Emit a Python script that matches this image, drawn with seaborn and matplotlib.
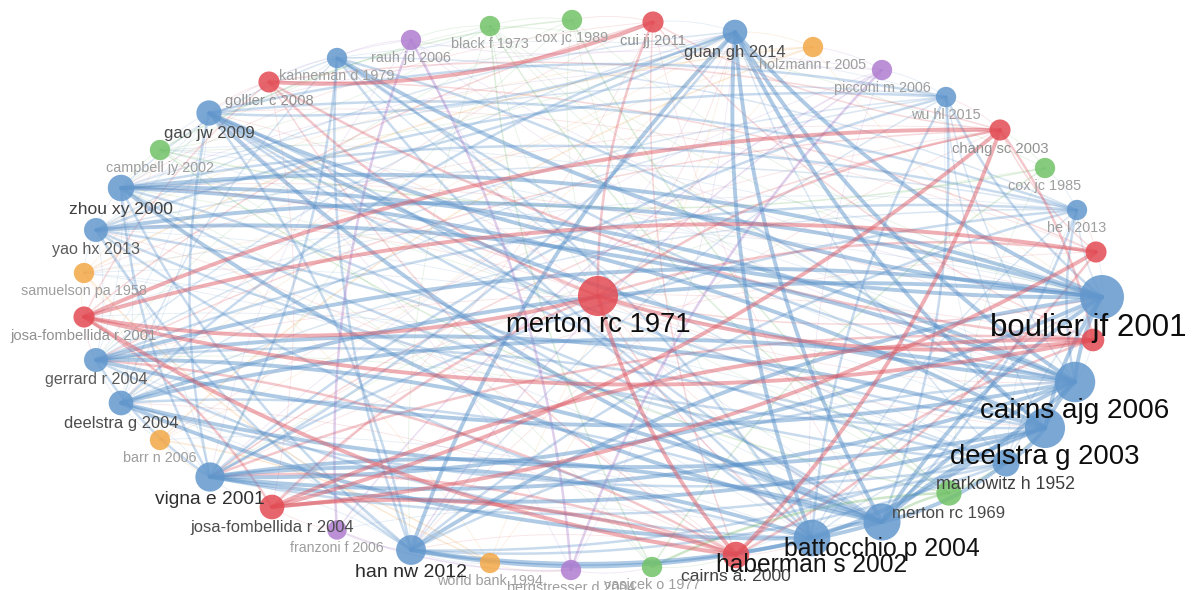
import numpy as np
import pandas as pd
import matplotlib
matplotlib.use("Agg")
import matplotlib.pyplot as plt
from matplotlib.collections import LineCollection
import seaborn as sns

# ---- co-citation map: documents (layout coordinates in map units) ----
keys = ["rauh", "black", "cox89", "cui", "guan", "holz", "picc", "wu", "chang", "cox85",
        "he", "redA", "boul", "redB", "cajg", "deel03", "mark", "mert69", "batt", "haber",
        "cairnsa", "vasi", "berg", "wb", "han", "franz", "josa04", "vigna", "barr", "deel04",
        "gerr", "josa01", "samu", "yao", "zhou", "camp", "gao", "goll", "kahn", "mert71"]
labels = ["rauh jd 2006", "black f 1973", "cox jc 1989", "cui jj 2011", "guan gh 2014",
          "holzmann r 2005", "picconi m 2006", "wu hl 2015", "chang sc 2003", "cox jc 1985",
          "he l 2013", "", "boulier jf 2001", "", "cairns ajg 2006", "deelstra g 2003",
          "markowitz h 1952", "merton rc 1969", "battocchio p 2004", "haberman s 2002",
          "cairns a. 2000", "vasicek o 1977", "bergstresser d 2004", "world bank 1994",
          "han nw 2012", "franzoni f 2006", "josa-fombellida r 2004", "vigna e 2001",
          "barr n 2006", "deelstra g 2004", "gerrard r 2004", "josa-fombellida r 2001",
          "samuelson pa 1958", "yao hx 2013", "zhou xy 2000", "campbell jy 2002",
          "gao jw 2009", "gollier c 2008", "kahneman d 1979", "merton rc 1971"]
clusters = [5, 2, 2, 1, 3, 4, 5, 3, 1, 2,
            3, 1, 3, 1, 3, 3, 3, 2, 3, 3,
            1, 2, 5, 4, 3, 5, 1, 3, 4, 3,
            3, 1, 4, 3, 3, 2, 3, 1, 3, 1]
map_x = [411, 490, 572, 653, 735, 813, 882, 946, 1000, 1045,
         1077, 1096, 1102, 1093, 1075, 1045, 1006, 949, 882, 812,
         736, 652, 571, 490, 411, 337, 272, 210, 160, 121,
         96, 84, 84, 96, 121, 160, 209, 269, 337, 598]
map_y = [40, 26, 20, 22, 32, 47, 70, 97, 130, 168,
         210, 252, 297, 340, 382, 428, 463, 493, 522, 538,
         555, 567, 570, 563, 550, 530, 507, 477, 440, 403,
         360, 317, 273, 230, 188, 150, 113, 82, 58, 296]
weights = [10, 10, 10, 11, 16, 10, 10, 10, 11, 10,
           10, 11, 60, 13, 50, 49, 20, 17, 41, 40,
           19, 10, 10, 10, 25, 9, 16, 24, 10, 16,
           15, 11, 10, 15, 19, 10, 17, 11, 10, 49]

# ---- links, grouped by co-citation strength ----
strong_links = [
    "boul zhou", "boul yao", "boul gerr", "gao boul", "boul deel04", "vigna boul", "boul han", "kahn boul",
    "cajg zhou", "gerr cajg", "cajg deel04", "vigna cajg", "gao cajg", "cajg yao",
    "deel03 zhou", "vigna deel03", "deel03 gerr", "deel04 deel03",
    "batt vigna", "zhou batt", "gao batt", "han batt", "batt gerr",
    "haber vigna", "deel04 haber", "han haber",
    "guan haber", "guan batt", "guan deel03", "guan cajg", "guan han", "guan boul",
    "boul cajg", "cajg deel03", "deel03 batt", "batt haber", "cajg batt", "boul batt",
    "haber cajg", "mark deel03", "batt mark", "boul deel03",
    "josa01 redB", "redA josa01", "josa01 mert71", "mert71 redB", "mert71 cairnsa",
    "josa04 chang", "redB josa04", "cairnsa chang", "josa01 cairnsa", "josa04 redA",
    "chang josa01", "goll cui", "cairnsa josa04",
]
medium_links = [
    "gao deel03", "haber gao", "gao mark", "wu gao", "gao guan", "he gao",
    "haber zhou", "zhou mark", "he zhou", "zhou guan",
    "yao deel03", "batt yao", "yao haber", "wu yao",
    "mark gerr", "gerr haber", "he gerr",
    "batt deel04", "deel04 mark", "guan deel04",
    "vigna mark", "vigna guan", "he vigna", "wu vigna",
    "han deel03", "cajg han", "han mark", "he han",
    "kahn cajg", "deel03 kahn", "kahn batt", "haber kahn", "kahn han", "vigna kahn",
    "wu boul", "batt wu", "wu haber", "he cajg", "batt he",
    "gao vigna", "zhou vigna", "han gao", "zhou han", "yao han", "gerr vigna",
    "chang mert71", "redB chang", "cui mert71", "goll redB", "mert71 josa04",
    "redA mert71", "cairnsa redA", "redB cairnsa", "josa04 josa01", "goll mert71",
    "cairnsa gerr", "redB vigna", "cairnsa vigna",
    "rauh franz", "berg rauh", "picc berg",
    "mert69 batt", "mert69 vasi",
]
weak_links = [
    "guan yao", "guan gerr", "guan mark", "wu deel04", "wu gerr", "wu zhou", "wu han",
    "wu cajg", "wu deel03", "he yao", "he deel04", "he haber", "he kahn", "he boul",
    "kahn mark", "kahn deel04", "kahn zhou", "mark han", "boul mark", "boul haber",
    "deel03 haber", "cajg mark",
    "chang goll", "chang vigna", "chang gerr", "chang redA", "cui chang", "cui josa01",
    "cui cairnsa", "cui redB", "goll josa01", "goll cairnsa", "redA goll", "redA cairnsa",
    "mert71 haber", "mert71 boul", "mert71 zhou",
    "cox89 mert69", "black mert69", "cox85 vasi", "camp mert69", "mert69 deel03",
    "camp cox85", "black vasi", "cox89 camp",
    "picc han", "picc franz", "franz berg",
    "samu wb", "holz barr", "wb barr", "holz samu",
]
faint_links = [
    "black rauh", "cox89 black", "cui cox89", "guan cui", "holz guan", "picc holz",
    "wu picc", "chang wu", "cox85 chang", "he cox85", "redA he", "boul redA",
    "redB boul", "cajg redB", "deel03 cajg", "mert69 mark", "batt mert69",
    "haber batt", "cairnsa haber", "vasi cairnsa", "berg vasi", "wb berg", "han wb",
    "franz han", "josa04 franz", "vigna josa04", "barr vigna", "deel04 barr",
    "gerr deel04", "josa01 gerr", "samu josa01", "yao samu", "zhou yao", "camp zhou",
    "gao camp", "goll gao", "kahn goll", "rauh kahn",
    "rauh guan", "rauh boul", "rauh cajg", "rauh haber", "rauh vigna", "rauh gao",
    "black zhou", "black boul", "black cajg", "black deel03", "black han", "black mert71",
    "cox89 boul", "cox89 vigna", "cox89 haber", "cox89 gerr", "cox89 mert71",
    "cui batt", "cui deel04", "cui zhou",
    "holz wb", "holz boul", "holz deel04", "holz yao",
    "picc vigna", "picc haber", "picc gao", "picc zhou",
    "wu kahn", "wu mark", "chang samu", "chang barr", "chang han",
    "cox85 mert69", "cox85 black", "cox85 camp", "cox85 vigna",
    "he mark", "he josa01", "redA gao", "redA vigna",
    "boul camp", "boul samu", "redB gerr", "redB zhou",
    "cajg camp", "deel03 samu", "deel03 camp",
    "mark yao", "mark josa01", "mert69 gerr", "mert69 zhou",
    "batt cairnsa", "batt samu", "batt camp",
    "haber franz", "haber barr", "haber samu",
    "cairnsa han", "cairnsa deel04", "cairnsa yao",
    "vasi camp", "vasi black", "vasi zhou",
    "berg gao", "berg guan", "wb samu", "wb guan", "wb zhou",
    "han gerr", "han vigna", "han deel04", "franz guan",
    "josa04 goll", "josa04 cui",
    "vigna deel04", "vigna yao", "vigna wu", "barr samu", "barr guan",
    "deel04 zhou", "deel04 gao", "gerr yao", "gerr gao", "gerr zhou",
    "josa01 goll", "samu camp", "samu guan", "yao gao", "zhou gao",
    "camp black", "camp guan", "gao kahn", "kahn black", "kahn wu",
    "mert71 gao", "mert71 zhou", "mert71 cajg", "mert71 deel03", "mert71 batt",
    "mert71 vigna", "mert71 yao", "mert71 guan",
]
link_groups = [(strong_links, 5.0), (medium_links, 3.0), (weak_links, 1.6), (faint_links, 0.7)]

# ---- styling ----
node_colors = {1: "#e34b53", 2: "#72c268", 3: "#6398cd", 4: "#f3a847", 5: "#b07dd0"}
link_colors = {1: "#dc5560", 2: "#66b45e", 3: "#5890c8", 4: "#eea248", 5: "#a06cc4"}
DPI = 100
W, H = 1195, 590

sns.set_theme(style="white")
plt.rcParams["font.family"] = ["Liberation Sans", "DejaVu Sans"]

nodes = pd.DataFrame({"key": keys, "label": labels, "cluster": clusters,
                      "x": map_x, "y": map_y, "weight": weights})
nodes["radius"] = 2.0 + 2.58 * np.sqrt(nodes["weight"])          # pixels
idx = {k: i for i, k in enumerate(keys)}

fig = plt.figure(figsize=(W / DPI, H / DPI), dpi=DPI)
ax = fig.add_axes([0, 0, 1, 1])
ax.set_xlim(0, W)
ax.set_ylim(H, 0)
ax.axis("off")

# ---- links: curved quadratic paths, weakest drawn first ----
seen = set()
records = []
for group, strength in link_groups:
    for pair in group:
        a, b = pair.split()
        k = frozenset((a, b))
        if k in seen:
            continue
        seen.add(k)
        records.append((a, b, strength))

t = np.linspace(0, 1, 40)[:, None]
for strength in sorted({r[2] for r in records}):
    segs, cols = [], []
    for a, b, s in records:
        if s != strength:
            continue
        p0 = np.array([map_x[idx[a]], map_y[idx[a]]], float)
        p2 = np.array([map_x[idx[b]], map_y[idx[b]]], float)
        d = p2 - p0
        ctrl = (p0 + p2) / 2 + 0.11 * np.array([-d[1], d[0]])
        pts = (1 - t) ** 2 * p0 + 2 * (1 - t) * t * ctrl + t ** 2 * p2
        segs.append(pts)
        cols.append(link_colors[clusters[idx[a]]])
    lc = LineCollection(segs, colors=cols, linewidths=0.3 + 0.5 * strength,
                        alpha=0.10 + 0.075 * strength, capstyle="round", zorder=1)
    ax.add_collection(lc)

# ---- nodes ----
area = {w: (2 * (2.0 + 2.58 * np.sqrt(w)) * 72 / DPI) ** 2 for w in nodes["weight"].unique()}
sns.scatterplot(data=nodes, x="x", y="y", hue="cluster", palette=node_colors,
                size="weight", sizes=area, legend=False, alpha=0.85,
                edgecolor="none", linewidth=0, zorder=3, ax=ax)

# ---- labels: font size and darkness follow document weight ----
fig.canvas.draw()
renderer = fig.canvas.get_renderer()
for _, row in nodes.iterrows():
    if not row["label"]:
        continue
    fs = max(10.2, 10.4 + 0.242 * (row["weight"] - 10))
    fs_px = fs * DPI / 72
    g = np.interp(row["weight"], [10, 13, 16, 25, 45], [0.62, 0.47, 0.30, 0.17, 0.05])
    ty = row["y"] + 0.4 * row["radius"] + 0.5 * fs_px + 7
    txt = ax.text(row["x"], ty, row["label"], ha="center", va="center",
                  fontsize=fs, color=(g, g, g), zorder=4)
    bb = txt.get_window_extent(renderer)
    if bb.x1 > W - 8:
        txt.set_x(row["x"] - (bb.x1 - (W - 8)))

fig.savefig("out.png", dpi=DPI, facecolor="white")
